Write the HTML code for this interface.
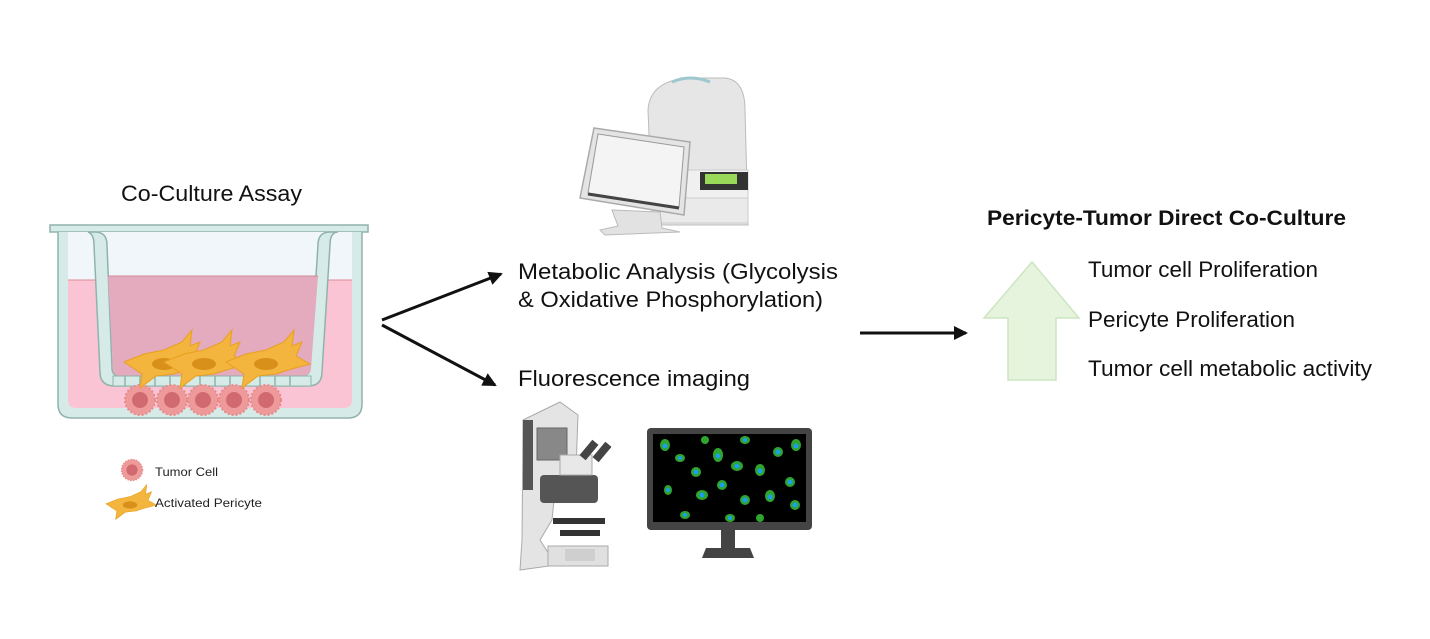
<!DOCTYPE html>
<html><head><meta charset="utf-8"><style>
html,body{margin:0;padding:0;background:#fff;}
svg{display:block;font-family:"Liberation Sans",sans-serif;}
</style></head><body>
<svg width="1430" height="639" viewBox="0 0 1430 639" xmlns="http://www.w3.org/2000/svg">
<defs>
<marker id="ah2" markerWidth="14" markerHeight="14" refX="12" refY="7" orient="auto" markerUnits="userSpaceOnUse">
<path d="M0,0 L14,7 L0,14 Z" fill="#111"/></marker>
<g id="tc"><circle r="15" fill="#ef9a9a" stroke="#e58a8a" stroke-width="2" stroke-dasharray="2 2"/><circle r="8" fill="#d06a70"/></g>
<g id="pc"><path d="M-40,-2 L-20,-10 L0,-14 L18,-22 L28,-34 L26,-18 L36,-22 L30,-8 L44,0 L22,6 L10,10 L-8,12 L-24,24 L-22,10 Z" fill="#f3b53d" stroke="#e8a020" stroke-width="1"/><ellipse cx="0" cy="0" rx="12" ry="6" fill="#d8901a"/></g>
</defs>

<text x="121" y="201" font-size="22" textLength="181" lengthAdjust="spacingAndGlyphs" fill="#111">Co-Culture Assay</text>

<!-- Well -->
<rect x="50" y="225" width="318" height="7" fill="#d6ebe7" stroke="#8fb3ab" stroke-width="1.5"/>
<path d="M58,232 L58,404 Q58,418 72,418 L348,418 Q362,418 362,404 L362,232" fill="#d6ebe7" stroke="#8fb3ab" stroke-width="1.5"/>
<path d="M68,232 L68,400 Q68,408 76,408 L344,408 Q352,408 352,400 L352,232 Z" fill="#f1f6fb"/>
<path d="M68,280 L352,280 L352,400 Q352,408 344,408 L76,408 Q68,408 68,400 Z" fill="#fbc4d4"/>
<line x1="68" y1="280" x2="352" y2="280" stroke="#e08a96" stroke-width="1"/>
<path d="M95,232 Q107,232 107,245 L112,368 Q112,376 120,376 L300,376 Q310,376 310,368 L318,245 Q318,232 330,232 L338,232 Q330,232 330,245 L322,372 Q322,386 308,386 L115,386 Q100,386 100,372 L94,245 Q94,234 88,232 Z" fill="#d6ebe7" stroke="#8fb3ab" stroke-width="1.5"/>
<path d="M108,276 L318,276 L311,368 Q311,376 300,376 L120,376 Q113,376 113,368 Z" fill="#e4aabd"/>
<line x1="108" y1="276" x2="318" y2="276" stroke="#d08a98" stroke-width="1"/>
<rect x="113" y="376" width="198" height="10" fill="#d6ebe7" stroke="#8fb3ab" stroke-width="1"/>
<g stroke="#8fb3ab" stroke-width="1.5">
<line x1="125" y1="376" x2="125" y2="386"/><line x1="140" y1="376" x2="140" y2="386"/><line x1="155" y1="376" x2="155" y2="386"/><line x1="170" y1="376" x2="170" y2="386"/><line x1="185" y1="376" x2="185" y2="386"/><line x1="200" y1="376" x2="200" y2="386"/><line x1="215" y1="376" x2="215" y2="386"/><line x1="230" y1="376" x2="230" y2="386"/><line x1="245" y1="376" x2="245" y2="386"/><line x1="260" y1="376" x2="260" y2="386"/><line x1="275" y1="376" x2="275" y2="386"/><line x1="290" y1="376" x2="290" y2="386"/></g>
<use href="#tc" x="140" y="400"/><use href="#tc" x="172" y="400"/><use href="#tc" x="203" y="400"/><use href="#tc" x="234" y="400"/><use href="#tc" x="266" y="400"/>
<use href="#pc" x="164" y="364"/><use href="#pc" x="204" y="364"/><use href="#pc" x="266" y="364"/>

<!-- Legend -->
<g transform="translate(132,470) scale(0.7)"><use href="#tc"/></g>
<text x="155" y="476" font-size="12" textLength="63" lengthAdjust="spacingAndGlyphs" fill="#222">Tumor Cell</text>
<g transform="translate(130,505) scale(0.6)"><use href="#pc"/></g>
<text x="155" y="507" font-size="12" textLength="107" lengthAdjust="spacingAndGlyphs" fill="#222">Activated Pericyte</text>

<!-- Arrows -->
<line x1="382" y1="320" x2="501" y2="274" stroke="#111" stroke-width="3" marker-end="url(#ah2)"/>
<line x1="382" y1="325" x2="495" y2="385" stroke="#111" stroke-width="3" marker-end="url(#ah2)"/>
<line x1="860" y1="333" x2="966" y2="333" stroke="#111" stroke-width="3" marker-end="url(#ah2)"/>

<!-- Machine -->
<path d="M648,110 Q650,80 690,78 L725,78 Q745,80 745,110 L748,225 L655,225 L650,160 Z" fill="#e6e6e6" stroke="#bbb" stroke-width="1"/>
<path d="M672,82 Q690,74 710,82" fill="none" stroke="#9fc7d0" stroke-width="3"/>
<rect x="652" y="170" width="96" height="28" fill="#f0f0f0" stroke="#ccc"/>
<rect x="700" y="172" width="48" height="18" fill="#333"/>
<rect x="705" y="174" width="32" height="10" fill="#9ad85a"/>
<rect x="652" y="198" width="96" height="25" fill="#eaeaea" stroke="#ccc"/>
<path d="M612,210 L660,212 L662,228 L680,232 L605,235 L600,230 L618,226 Z" fill="#e2e2e2" stroke="#bbb"/>
<path d="M594,128 L690,142 L684,215 L580,198 Z" fill="#e4e4e4" stroke="#aaa" stroke-width="1.5"/>
<path d="M598,134 L684,147 L679,207 L588,193 Z" fill="#f4f4f4" stroke="#999"/>
<line x1="588" y1="194" x2="679" y2="208" stroke="#444" stroke-width="3"/>

<!-- Middle text -->
<text x="518" y="279" font-size="22" textLength="320" lengthAdjust="spacingAndGlyphs" fill="#111">Metabolic Analysis (Glycolysis</text>
<text x="518" y="307" font-size="22" textLength="305" lengthAdjust="spacingAndGlyphs" fill="#111">&amp; Oxidative Phosphorylation)</text>
<text x="518" y="386" font-size="22" textLength="232" lengthAdjust="spacingAndGlyphs" fill="#111">Fluorescence imaging</text>

<!-- Microscope -->
<path d="M523,420 L560,402 L578,415 L576,470 L556,480 L552,520 L540,540 L556,565 L520,570 L522,540 Z" fill="#e4e4e4" stroke="#aaa"/>
<rect x="523" y="420" width="10" height="70" fill="#555"/>
<rect x="537" y="428" width="30" height="32" fill="#888" stroke="#666"/>
<rect x="540" y="475" width="58" height="28" fill="#555" rx="4"/>
<rect x="560" y="455" width="32" height="20" fill="#e8e8e8" stroke="#aaa"/>
<rect x="585" y="440" width="8" height="20" fill="#444" transform="rotate(40 589 450)"/>
<rect x="598" y="442" width="8" height="20" fill="#444" transform="rotate(40 602 452)"/>
<rect x="553" y="518" width="52" height="6" fill="#333"/>
<rect x="560" y="530" width="40" height="6" fill="#333"/>
<rect x="548" y="546" width="60" height="20" fill="#e0e0e0" stroke="#aaa"/>
<rect x="565" y="549" width="30" height="12" fill="#cfcfcf"/>

<!-- Monitor -->
<rect x="647" y="428" width="165" height="102" rx="4" fill="#444"/>
<rect x="653" y="434" width="153" height="88" fill="#000"/>
<g fill="#2fa52f">
<ellipse cx="665" cy="445" rx="5" ry="6"/><ellipse cx="680" cy="458" rx="5" ry="4"/><ellipse cx="696" cy="472" rx="5" ry="5"/><ellipse cx="718" cy="455" rx="5" ry="7"/><ellipse cx="737" cy="466" rx="6" ry="5"/><ellipse cx="760" cy="470" rx="5" ry="6"/><ellipse cx="778" cy="452" rx="5" ry="5"/><ellipse cx="796" cy="445" rx="5" ry="6"/><ellipse cx="790" cy="482" rx="5" ry="5"/><ellipse cx="668" cy="490" rx="4" ry="5"/><ellipse cx="702" cy="495" rx="6" ry="5"/><ellipse cx="722" cy="485" rx="5" ry="5"/><ellipse cx="745" cy="500" rx="5" ry="5"/><ellipse cx="770" cy="496" rx="5" ry="6"/><ellipse cx="795" cy="505" rx="5" ry="5"/><ellipse cx="685" cy="515" rx="5" ry="4"/><ellipse cx="730" cy="518" rx="5" ry="4"/><ellipse cx="760" cy="518" rx="4" ry="4"/><ellipse cx="745" cy="440" rx="5" ry="4"/><ellipse cx="705" cy="440" rx="4" ry="4"/>
</g>
<g fill="#1e9ee8">
<circle cx="665" cy="446" r="2.5"/><circle cx="680" cy="458" r="2"/><circle cx="696" cy="472" r="2.5"/><circle cx="718" cy="456" r="2.5"/><circle cx="737" cy="466" r="2.5"/><circle cx="760" cy="471" r="2.5"/><circle cx="778" cy="452" r="2.5"/><circle cx="796" cy="446" r="2.5"/><circle cx="790" cy="482" r="2.5"/><circle cx="668" cy="490" r="2"/><circle cx="702" cy="495" r="2.5"/><circle cx="722" cy="485" r="2.5"/><circle cx="745" cy="500" r="2.5"/><circle cx="770" cy="497" r="2.5"/><circle cx="795" cy="505" r="2.5"/><circle cx="685" cy="515" r="2"/><circle cx="730" cy="518" r="2"/><circle cx="745" cy="440" r="2"/>
</g>
<rect x="721" y="530" width="14" height="18" fill="#444"/>
<path d="M706,548 L750,548 L754,558 L702,558 Z" fill="#444"/>

<!-- Green up arrow -->
<path d="M1032,262 L1079,318 L1056,318 L1056,380 L1008,380 L1008,318 L984,318 Z" fill="#e6f4de" stroke="#cce5c2" stroke-width="1.5"/>

<!-- Right text -->
<text x="987" y="225" font-size="21" font-weight="bold" textLength="359" lengthAdjust="spacingAndGlyphs" fill="#111">Pericyte-Tumor Direct Co-Culture</text>
<text x="1088" y="277" font-size="22" textLength="230" lengthAdjust="spacingAndGlyphs" fill="#111">Tumor cell Proliferation</text>
<text x="1088" y="327" font-size="22" textLength="207" lengthAdjust="spacingAndGlyphs" fill="#111">Pericyte Proliferation</text>
<text x="1088" y="376" font-size="22" textLength="284" lengthAdjust="spacingAndGlyphs" fill="#111">Tumor cell metabolic activity</text>
</svg>
</body></html>
